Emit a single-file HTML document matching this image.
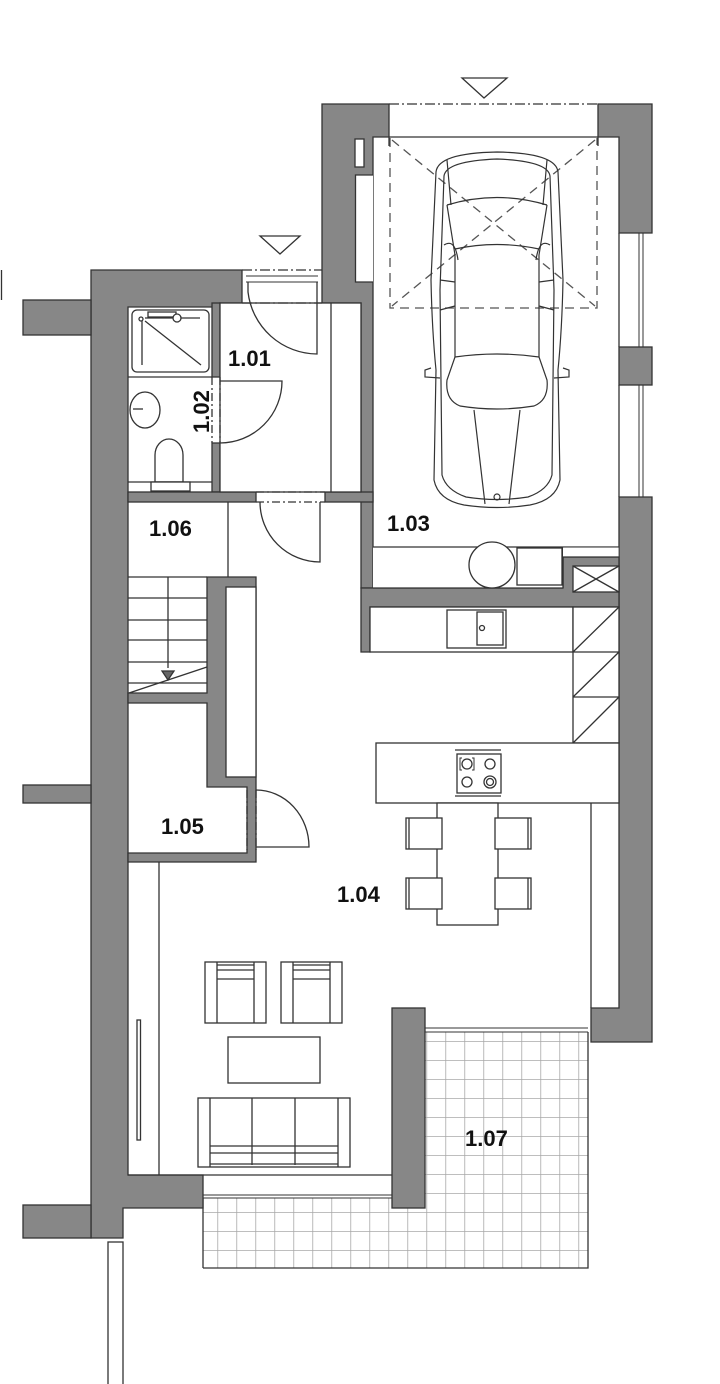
<!DOCTYPE html>
<html><head><meta charset="utf-8"><style>
html,body{margin:0;padding:0;background:#fff}
svg{display:block}
text{font-family:"Liberation Sans",Arial,sans-serif;font-weight:bold;font-size:22px;fill:#111}
</style></head><body>
<svg width="720" height="1384" viewBox="0 0 720 1384" xmlns="http://www.w3.org/2000/svg">
<defs>
<pattern id="tiles" x="217.3" y="1041" width="19" height="19" patternUnits="userSpaceOnUse">
<rect width="19" height="19" fill="#fff"/>
<path d="M0 0H19M0 0V19" stroke="#a8a8a8" stroke-width="1.6" fill="none"/>
</pattern>
</defs>
<g stroke="#333" stroke-width="1.3">
<rect x="425" y="1032" width="163" height="236" fill="url(#tiles)" stroke="none"/>
<rect x="203" y="1198" width="222" height="70" fill="url(#tiles)" stroke="none"/>
<path d="M203 1268H588V1032" fill="none"/>
<path d="M203 1198V1268" fill="none"/>

<g fill="#878787">
<path d="M91 270H242V303H220V307H128V1175H203V1208H123V1238H91Z"/>
<rect x="23" y="300" width="68" height="35"/>
<rect x="23" y="785" width="68" height="18"/>
<rect x="23" y="1205" width="68" height="33"/>
<path d="M322 104H389V137H373V282H373V303H373V588H361V303H322Z"/>
<path d="M598 104H652V233H619V137H598Z"/>
<rect x="619" y="347" width="33" height="38"/>
<path d="M619 497H652V1042H591V1008H619Z"/>
<path d="M361 588H563V557H619V607H370V652H361Z"/>
<rect x="212" y="303" width="8" height="74"/>
<rect x="212" y="443" width="8" height="49"/>
<rect x="128" y="492" width="128" height="10"/>
<rect x="325" y="492" width="48" height="10"/>
<path d="M207 577H256V787H256V862H128V853H247V787H207V703H128V693H207Z"/>
<rect x="392" y="1008" width="33" height="200"/>
</g>
<rect x="355.5" y="175" width="17.5" height="107" fill="#fff" stroke="none"/>
<path d="M373 175H355.5V282H373" fill="none"/>
<rect x="355" y="139" width="9" height="28" fill="#fff"/>
<rect x="220" y="303" width="141" height="189" fill="#fff"/>
<line x1="331" y1="303" x2="331" y2="492"/>
<path d="M242 270H322M242 303H322" stroke-dasharray="10 3 2 3" fill="none"/>
<path d="M246 276H318M246 282H318" fill="none" stroke-width="1"/>
<path d="M248 282V292A70 70 0 0 0 317 354V282" fill="none"/>
<path d="M212 377V443M220 377V443" stroke-dasharray="8 3 2 3" fill="none"/>
<path d="M220 443A62 62 0 0 0 282 381H220" fill="none"/>
<path d="M256 492H325M256 502H325" stroke-dasharray="8 3 2 3" fill="none"/>
<path d="M260 502A60 60 0 0 0 320 562V502" fill="none"/>
<path d="M247 790V850M256 790V850" stroke-dasharray="8 3 2 3" fill="none"/>
<path d="M256 790A53 57 0 0 1 309 847H256" fill="none"/>

<rect x="132" y="310" width="77" height="62" rx="5" fill="#fff"/>
<line x1="128" y1="377" x2="212" y2="377"/>
<line x1="142" y1="320" x2="142" y2="365"/><line x1="145" y1="321" x2="201" y2="365"/>
<line x1="145" y1="318" x2="200" y2="318"/>
<circle cx="141" cy="319" r="2" fill="#fff"/>
<rect x="148" y="312" width="28" height="5" fill="#fff"/>
<circle cx="177" cy="318" r="4" fill="#fff"/>
<ellipse cx="145" cy="410" rx="15" ry="18" fill="#fff"/>
<line x1="133" y1="409" x2="143" y2="409"/>
<path d="M155 482V455A14 16 0 0 1 183 455V482Z" fill="#fff"/>
<line x1="128" y1="482" x2="212" y2="482"/>
<rect x="151" y="482" width="39" height="9" fill="#fff"/>

<line x1="228" y1="502" x2="228" y2="577"/>
<line x1="128" y1="577" x2="207" y2="577"/>
<g fill="none">
<path d="M128 598H207M128 620H207M128 640H207M128 662H207M128 683H207"/>
<line x1="168" y1="577" x2="168" y2="668"/>
<line x1="129" y1="693" x2="207" y2="667"/>
</g>
<path d="M162 671H174L168 680Z" fill="#666"/>
<rect x="226" y="587" width="30" height="190" fill="#fff"/>

<path d="M389 137H598" fill="none"/>
<path d="M389 104H598" stroke-dasharray="10 3 2 3" fill="none"/>
<path d="M390 138V308H597V138" stroke="#555" stroke-dasharray="9 6" fill="none"/>
<path d="M392 140L595 306M595 140L392 306" stroke="#555" stroke-dasharray="9 6" fill="none"/>
<path d="M389 137v9M598 137v9" fill="none"/>
<path d="M639 233V347M643 233V347M639 385V497M643 385V497" fill="none" stroke-width="1"/>
<path d="M619 233V347M619 385V497" fill="none"/>

<g fill="none" stroke-width="1.2">
<path d="M436 172Q438 153 497 152Q556 153 558 172L563 280Q562 330 558 370L560 480Q556 500 530 505Q497 510 464 505Q438 500 434 480L436 370Q432 330 431 280Z"/>
<path d="M444 176Q446 161 497 159Q548 161 550 176L554 290L552 475Q548 490 528 497Q497 502 466 497Q446 490 442 475L440 290Z"/>
<path d="M447 160L451 205M547 160L543 205"/>
<path d="M447 205Q497 190 547 205"/>
<path d="M447 205L455 255V357M547 205L539 255V357"/>
<path d="M455 249Q497 240 539 249"/>
<path d="M455 357Q497 351 539 357"/>
<path d="M455 357L447 380Q445 400 460 406Q497 412 534 406Q549 400 547 380L539 357"/>
<path d="M474 410L485 504M520 410L509 504"/>
<circle cx="497" cy="497" r="3"/>
<path d="M431 368L425 370V377L440 378M563 368L569 370V377L554 378"/>
<path d="M444 245Q455 238 458 260M550 245Q539 238 536 260"/>
<path d="M440 280L455 282M554 280L539 282M440 310L455 306M554 310L539 306"/>
</g>
<rect x="373" y="547" width="190" height="41" fill="#fff" stroke="none"/>
<path d="M373 547H619M563 547V588M373 588H563" fill="none"/>
<rect x="563" y="547.6" width="55.6" height="9" fill="#fff" stroke="none"/>
<path d="M563 557H619" fill="none"/>
<circle cx="492" cy="565" r="23" fill="#fff"/>
<rect x="517" y="548" width="45" height="37" fill="#fff"/>
<rect x="573" y="566" width="46" height="26" fill="#fff"/>
<path d="M573 566L619 592M619 566L573 592" fill="none"/>

<rect x="370" y="607" width="203" height="45" fill="#fff"/>
<rect x="447" y="610" width="59" height="38" fill="#fff"/>
<rect x="477" y="612" width="26" height="33" fill="#fff"/>
<circle cx="482" cy="628" r="2.5" fill="#fff"/>
<rect x="573" y="607" width="46" height="136" fill="#fff"/>
<path d="M573 652H619M573 697H619M573 652L619 607M573 697L619 652M573 743L619 697" fill="none"/>
<rect x="376" y="743" width="243" height="60" fill="#fff"/>
<rect x="457" y="754" width="44" height="39" fill="#fff"/>
<path d="M455 750H501M455 796H501" fill="none"/>
<circle cx="467" cy="764" r="5" fill="none"/><circle cx="490" cy="764" r="5" fill="none"/>
<circle cx="467" cy="782" r="5" fill="none"/><circle cx="490" cy="782" r="6" fill="none"/><circle cx="490" cy="782" r="3.5" fill="none"/>
<path d="M462 758h-2v12h2M472 758h2v12h-2" fill="none" stroke-width="1"/>
<line x1="591" y1="803" x2="591" y2="1008"/>
<rect x="437" y="803" width="61" height="122" fill="#fff"/>
<g fill="#fff">
<rect x="406" y="818" width="36" height="31"/><rect x="495" y="818" width="36" height="31"/>
<rect x="406" y="878" width="36" height="31"/><rect x="495" y="878" width="36" height="31"/>
</g>
<path d="M409 818V849M528 818V849M409 878V909M528 878V909" fill="none"/>
<line x1="159" y1="862" x2="159" y2="1175"/>
<rect x="137" y="1020" width="3.5" height="120" fill="#fff"/>
<line x1="128" y1="1175" x2="392" y2="1175"/>
<g fill="#fff">
<rect x="205" y="962" width="61" height="61"/><rect x="281" y="962" width="61" height="61"/>
</g>
<path d="M217 962V1023M254 962V1023M217 965H254M217 970H254M217 979H254M293 962V1023M330 962V1023M293 965H330M293 970H330M293 979H330" fill="none"/>
<rect x="228" y="1037" width="92" height="46" fill="#fff"/>
<rect x="198" y="1098" width="152" height="69" fill="#fff"/>
<path d="M210 1098V1167M338 1098V1167M252 1098V1165M295 1098V1165M210 1146H338M210 1153H338M210 1164H338" fill="none"/>
<path d="M203 1195H392M203 1198H392M425 1028H588M425 1032H588" fill="none" stroke-width="1"/>
<rect x="108" y="1242" width="15" height="150" fill="#fff"/>
<line x1="1.5" y1="270" x2="1.5" y2="300"/>
<path d="M462 78H507L484 98Z" fill="#fff"/>
<path d="M260 236H300L280 254Z" fill="#fff"/>
</g>
<text x="228" y="366">1.01</text>
<text transform="translate(209,433) rotate(-90)">1.02</text>
<text x="387" y="531">1.03</text>
<text x="337" y="902">1.04</text>
<text x="161" y="834">1.05</text>
<text x="149" y="536">1.06</text>
<text x="465" y="1146">1.07</text>
</svg>
</body></html>
